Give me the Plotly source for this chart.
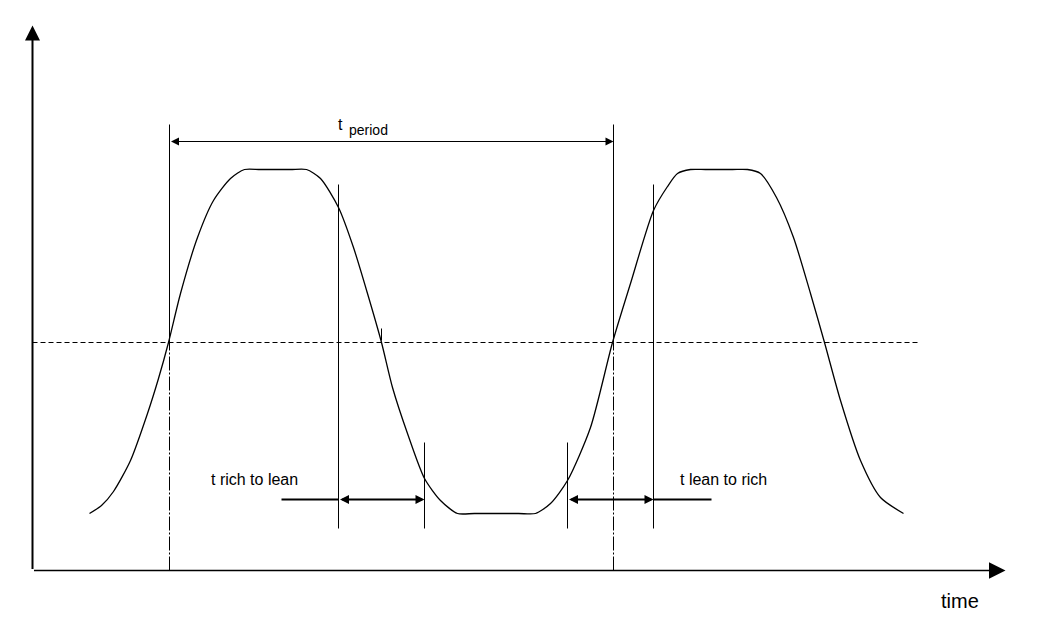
import plotly.graph_objects as go

# ---- Data (time units, signal units; origin at axes corner) ----
wave_t = [57, 69, 81, 98, 115, 126, 136, 148, 165, 181, 198, 212, 228,
          258, 274, 288, 306, 321, 335, 349, 360, 375, 392, 408, 425, 442,
          486, 503, 518, 535, 558, 580, 598, 621, 635, 645, 658, 673,
          700, 715, 728, 744, 761, 778, 792, 808, 828, 848, 871]
wave_v = [57, 65, 79, 110, 157, 192, 228, 277, 333, 370, 392, 401, 401,
          401, 401, 392, 363, 323, 277, 228, 183, 137, 92, 70, 57, 57,
          57, 57, 67, 90, 143, 228, 287, 360, 384, 397, 401, 401,
          401, 401, 397, 373, 333, 277, 228, 170, 110, 73, 57]

mid_level = 228          # dashed switching level
mid_end_t = 886

period_marks_t = [137, 581]
period_mark_top = 446
period_arrow_v = 429

rl_marks_t = [306, 392]          # rich -> lean
rl_marks_top = [386, 128]
lr_marks_t = [535, 621]          # lean -> rich
lr_marks_top = [128, 386]
marks_bottom = 42
trans_arrow_v = 71
rl_lead_t = 249
lr_lead_t = 679

tick_t = 349
tick_v = [230, 242]

axis_t_end = 973
axis_v_end = 545

label_rl = "t rich to lean"
label_lr = "t lean to rich"
label_rl_pos = (176, 91)
label_lr_pos = (645, 91)
label_time = "time"
label_time_pos = (927, -30)
label_t = "t"
label_t_pos = (308, 446)
label_period = "period"
label_period_pos = (314, 441)

FONT = "Liberation Sans, Arial, sans-serif"
BLACK = "black"

fig = go.Figure()
fig.add_trace(go.Scatter(x=wave_t, y=wave_v, mode="lines",
                         line=dict(color=BLACK, width=1.3, shape="spline", smoothing=0.7),
                         hoverinfo="skip"))

shapes = []
# dashed mid line
shapes.append(dict(type="line", xref="x", yref="y", x0=0, x1=mid_end_t, y0=mid_level, y1=mid_level,
                   line=dict(color=BLACK, width=1, dash="5px,3px")))
# period marker lines
for t in period_marks_t:
    shapes.append(dict(type="line", xref="x", yref="y", x0=t, x1=t, y0=mid_level, y1=period_mark_top,
                       line=dict(color=BLACK, width=1)))
    shapes.append(dict(type="line", xref="x", yref="y", x0=t, x1=t, y0=0, y1=mid_level,
                       line=dict(color=BLACK, width=1, dash="14px,2px,2px,2px")))
# transition marker lines
for t, top in zip(rl_marks_t + lr_marks_t, rl_marks_top + lr_marks_top):
    shapes.append(dict(type="line", xref="x", yref="y", x0=t, x1=t, y0=marks_bottom, y1=top,
                       line=dict(color=BLACK, width=1)))
# lead lines
shapes.append(dict(type="line", xref="x", yref="y", x0=rl_lead_t, x1=rl_marks_t[0],
                   y0=trans_arrow_v, y1=trans_arrow_v, line=dict(color=BLACK, width=2)))
shapes.append(dict(type="line", xref="x", yref="y", x0=lr_marks_t[1], x1=lr_lead_t,
                   y0=trans_arrow_v, y1=trans_arrow_v, line=dict(color=BLACK, width=2)))
# small tick
shapes.append(dict(type="line", xref="x", yref="y", x0=tick_t, x1=tick_t, y0=tick_v[0], y1=tick_v[1],
                   line=dict(color=BLACK, width=1)))

annotations = []


def arrow(x_head, y_head, x_tail, y_tail, width, size, both=False):
    d = dict(x=x_head, y=y_head, ax=x_tail, ay=y_tail, xref="x", yref="y", axref="x", ayref="y",
             text="", showarrow=True, arrowhead=2, arrowsize=size, arrowwidth=width,
             arrowcolor=BLACK, standoff=0, startstandoff=0)
    if both:
        d.update(arrowside="end+start", startarrowhead=2, startarrowsize=size)
    return d


# axes
annotations.append(arrow(0, axis_v_end, 0, 0, 2, 1.5))
annotations.append(arrow(axis_t_end, 0, 0, 0, 1.5, 2.2))
# period arrow
annotations.append(arrow(period_marks_t[1], period_arrow_v, period_marks_t[0], period_arrow_v, 1, 1.6, both=True))
# transition arrows
annotations.append(arrow(rl_marks_t[1], trans_arrow_v, rl_marks_t[0], trans_arrow_v, 2, 0.9, both=True))
annotations.append(arrow(lr_marks_t[1], trans_arrow_v, lr_marks_t[0], trans_arrow_v, 2, 0.9, both=True))

# labels
annotations.append(dict(x=label_rl_pos[0], y=label_rl_pos[1], xref="x", yref="y", text=label_rl,
                        showarrow=False, xanchor="left", yanchor="middle",
                        font=dict(family=FONT, size=16, color=BLACK)))
annotations.append(dict(x=label_lr_pos[0], y=label_lr_pos[1], xref="x", yref="y", text=label_lr,
                        showarrow=False, xanchor="left", yanchor="middle",
                        font=dict(family=FONT, size=16, color=BLACK)))
annotations.append(dict(x=label_time_pos[0], y=label_time_pos[1], xref="x", yref="y", text=label_time,
                        showarrow=False, xanchor="center", yanchor="middle",
                        font=dict(family=FONT, size=20, color=BLACK)))
annotations.append(dict(x=label_t_pos[0], y=label_t_pos[1], xref="x", yref="y", text=label_t,
                        showarrow=False, xanchor="center", yanchor="middle",
                        font=dict(family=FONT, size=16, color=BLACK)))
annotations.append(dict(x=label_period_pos[0], y=label_period_pos[1], xref="x", yref="y", text=label_period,
                        showarrow=False, xanchor="left", yanchor="middle",
                        font=dict(family=FONT, size=14, color=BLACK)))

# The page body adds an 8px margin, so the figure is 8px smaller and the
# ranges are chosen so that the drawing lands where the reference has it.
fig.update_layout(
    width=1048, height=616,
    margin=dict(l=0, r=0, t=0, b=0),
    paper_bgcolor="white", plot_bgcolor="white",
    showlegend=False,
    xaxis=dict(range=[-24.5, 1023.5], visible=False, fixedrange=True),
    yaxis=dict(range=[-53.5, 562.5], visible=False, fixedrange=True),
    shapes=shapes,
    annotations=annotations,
)

fig.write_html("out.html", config={"displayModeBar": False})
